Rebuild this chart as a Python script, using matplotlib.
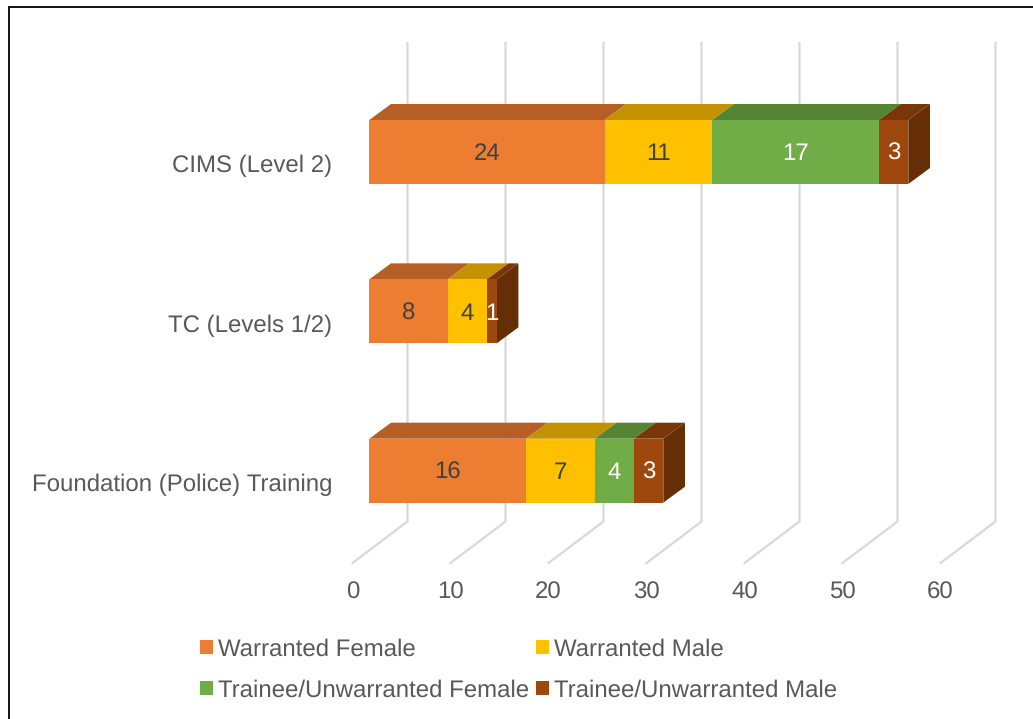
import matplotlib.pyplot as plt
from matplotlib.patches import Polygon, Patch, Rectangle

plt.rcParams['font.family'] = ['Liberation Sans', 'DejaVu Sans']
plt.rcParams['text.hinting'] = 'no_hinting'
plt.rcParams['text.hinting_factor'] = 1

categories = ['Foundation (Police) Training', 'TC (Levels 1/2)', 'CIMS (Level 2)']
warranted_female = [16, 8, 24]
warranted_male = [7, 4, 11]
trainee_female = [4, 0, 17]
trainee_male = [3, 1, 3]
series_names = ['Warranted Female', 'Warranted Male', 'Trainee/Unwarranted Female', 'Trainee/Unwarranted Male']
x_ticks = [0, 10, 20, 30, 40, 50, 60]

front_colors = ['#ED7D31', '#FFC000', '#70AD47', '#9E480E']
top_colors = ['#B55F25', '#C29200', '#568435', '#793709']
side_color = '#652E07'
text_colors = ['#404040', '#404040', '#FFFFFF', '#FFFFFF']

W, H = 1033, 719
x0_px, px_per_unit = 352.5, 9.8
cat0_px, px_per_cat = 470.7, 159.35
font_size = 17.2

fig = plt.figure(figsize=(W / 100, H / 100), dpi=100)
ax = fig.add_axes([0, 0, 1, 1])
ax.set_xlim(-x0_px / px_per_unit, (W - x0_px) / px_per_unit)
ax.set_ylim((cat0_px - H) / px_per_cat, cat0_px / px_per_cat)
ax.axis('off')


# pixel offsets to data offsets
def dx(px):
    return px / px_per_unit


def dy(px):
    return -px / px_per_cat


def py(px):
    return (cat0_px - px) / px_per_cat


# outer frame
ax.plot([dx(9 - x0_px), dx(9 - x0_px), dx(W - x0_px)], [py(H), py(6.5), py(6.5)],
        color='black', lw=1.3, solid_joinstyle='miter', clip_on=False)

# floor and back wall gridlines
for t in x_ticks:
    ax.plot([t, t + dx(55), t + dx(55)], [py(563), py(521.5), py(43)], color='#D9D9D9', lw=1.6, zorder=1)
    ax.text(t, py(593), str(t), ha='center', va='center', fontsize=font_size, color='#595959')

for i, cat in enumerate(categories):
    ax.text(dx(332 - x0_px), i + dy(14), cat, ha='right', va='center', fontsize=font_size, color='#595959')

series = [warranted_female, warranted_male, trainee_female, trainee_male]
start = dx(16.8)
half = 32 / px_per_cat
ddx, ddy = dx(21.7), 16 / px_per_cat

for i in range(len(categories)):
    left = start
    for j, values in enumerate(series):
        v = values[i]
        if v == 0:
            continue
        right = left + v
        ax.add_patch(Polygon([(left, i + half), (right, i + half), (right + ddx, i + half + ddy), (left + ddx, i + half + ddy)],
                             facecolor=top_colors[j], edgecolor='none', zorder=3))
        ax.add_patch(Rectangle((left, i - half), v, 2 * half, facecolor=front_colors[j], edgecolor='none', zorder=4))
        ax.text(left + v / 2, i + dy(2), str(v), ha='center', va='center', fontsize=font_size, color=text_colors[j], zorder=5)
        left = right
    ax.add_patch(Polygon([(left, i - half), (left + ddx, i - half + ddy), (left + ddx, i + half + ddy), (left, i + half)],
                         facecolor=side_color, edgecolor='none', zorder=3))

# legend fills column by column
order = [0, 2, 1, 3]
handles = [Patch(facecolor=front_colors[k], edgecolor='none', label=series_names[k]) for k in order]
ax.legend(handles=handles, ncols=2, loc='center left', bbox_to_anchor=(200 / W, 1 - 670 / H), frameon=False,
          fontsize=font_size, labelcolor='#595959', handlelength=0.55, handleheight=0.55, handletextpad=0.2,
          columnspacing=0.3, labelspacing=0.78, borderpad=0, borderaxespad=0)

fig.savefig('out.png', dpi=100)
plt.close('all')
